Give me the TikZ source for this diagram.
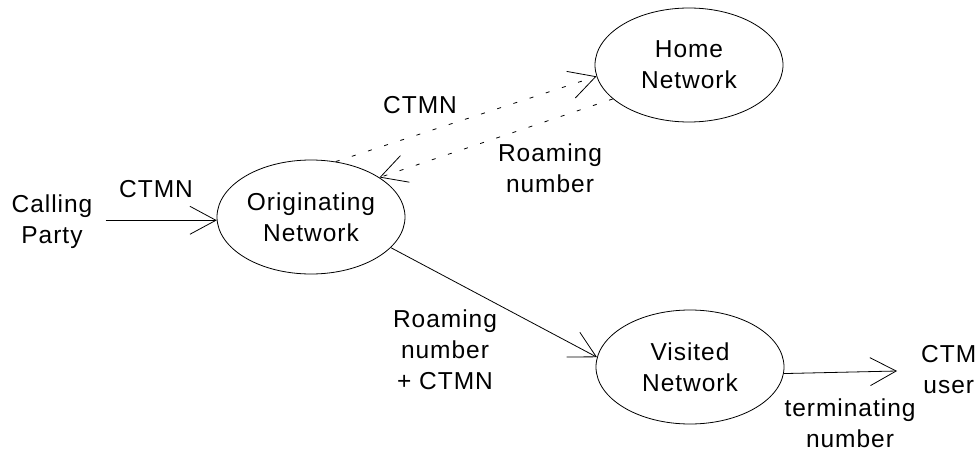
\documentclass[tikz,border=0pt]{standalone}
\usepackage{fontspec}
\setmainfont{Liberation Sans}[LetterSpace=4]
\usetikzlibrary{shapes.geometric,arrows.meta}
\tikzset{
  netnode/.style={ellipse, draw, line width=0.8pt, minimum width=188pt, minimum height=114pt, inner sep=0pt, align=center, font=\fontsize{24.5}{31}\selectfont},
  txt/.style={align=center, inner sep=0pt, font=\fontsize{24.5}{31}\selectfont},
  arr/.style={line width=0.8pt, -{Straight Barb[length=26pt,width=28pt,line width=0.8pt]}},
  darr/.style={arr, dash pattern=on 4pt off 13pt}
}
\begin{document}
\begin{tikzpicture}[x=1pt,y=-1pt]
\useasboundingbox (0,0) rectangle (978,452);
\node[netnode] (orig) at (311,217) {Originating\\Network};
\node[netnode] (home) at (689,65) {Home\\Network};
\node[netnode] (vis) at (690,367) {Visited\\Network};
\node[txt] (cp) at (52,222) {Calling\\Party};
\node[txt, anchor=west] (user) at (921,370) {CTM\\user};
\coordinate (userin) at (897,371);
\draw[arr] ([xshift=13pt]cp.east |- orig.182) -- (orig.182);
\draw[darr] (orig.66) -- (home.187);
\draw[darr] (home.204) -- (orig.30);
\draw[arr] (orig.-21) -- (vis.174);
\draw[arr] (vis.-4) -- (userin);
\node[txt] (l1) at (156,189) {CTMN};
\node[txt] (l2) at (420,105) {CTMN};
\node[txt] (l3) at (550,168) {Roaming\\number};
\node[txt] (l4) at (445,350) {Roaming\\number\\+ CTMN};
\node[txt] (l5) at (850,423) {terminating\\number};
\end{tikzpicture}
\end{document}
